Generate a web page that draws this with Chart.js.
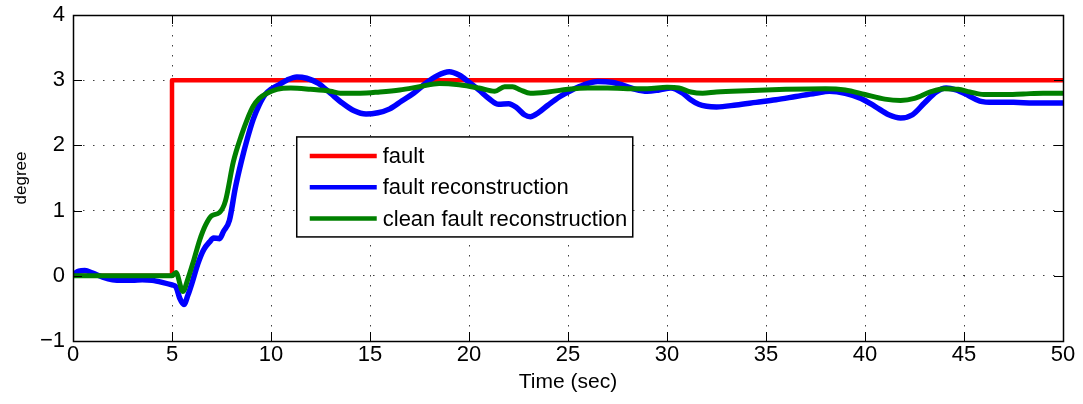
<!DOCTYPE html>
<html>
<head>
<meta charset="utf-8">
<script src="https://cdn.jsdelivr.net/npm/chart.js@4.4.0/dist/chart.umd.min.js"></script>
<style>
  html, body { margin: 0; padding: 0; background: #fff; }
  #wrap { width: 1083px; height: 404px; }
</style>
</head>
<body>
<div id="wrap"><canvas id="grafico" width="1083" height="404"></canvas></div>
<script>
const seriesNames = ['fault', 'fault reconstruction', 'clean fault reconstruction']
const xTicks = [0, 5, 10, 15, 20, 25, 30, 35, 40, 45, 50]
const yTicks = [-1, 0, 1, 2, 3, 4]

const tFault = [0, 5, 5, 50]
const fault = [0, 0, 3, 3]

const tBlue = [0, 0.3, 0.6, 1, 1.5, 2, 2.5, 3, 3.5, 4, 4.5, 5, 5.2, 5.4, 5.6, 5.8, 6, 6.3, 6.6, 6.9,
    7.1, 7.4, 7.6, 7.9, 8.2, 8.5, 8.8, 9.1, 9.4, 9.7, 10, 10.4, 10.8, 11.3, 11.8, 12.4, 13, 13.6, 14.2, 14.8,
    15.4, 16, 16.6, 17.2, 17.8, 18.4, 19, 19.5, 20, 20.5, 21, 21.5, 22, 22.4, 22.8, 23.1, 23.5, 24, 24.6, 25.2,
    25.8, 26.5, 27.2, 27.8, 28.4, 29, 29.6, 30.2, 30.8, 31.2, 31.6, 32, 32.5, 33.5, 34.5, 35.5, 36.5, 37.5, 38.2, 39,
    39.8, 40.5, 41.2, 41.8, 42.4, 43, 43.6, 44.1, 44.6, 45.2, 45.8, 46.5, 47.5, 48.5, 49.5, 50]
const faultRec = [0.02, 0.07, 0.08, 0.04, -0.02, -0.06, -0.07, -0.07, -0.06, -0.07, -0.1, -0.14, -0.17, -0.35, -0.44, -0.3, -0.12, 0.18, 0.4, 0.52,
    0.58, 0.57, 0.68, 0.85, 1.35, 1.75, 2.1, 2.4, 2.62, 2.78, 2.86, 2.93, 3.0, 3.05, 3.03, 2.95, 2.8, 2.65, 2.53, 2.48,
    2.5, 2.56, 2.68, 2.8, 2.95, 3.07, 3.13, 3.08, 2.97, 2.85, 2.72, 2.63, 2.64, 2.58, 2.47, 2.44, 2.5, 2.62, 2.75, 2.85,
    2.93, 2.98, 2.97, 2.92, 2.86, 2.83, 2.85, 2.88, 2.8, 2.7, 2.63, 2.6, 2.59, 2.62, 2.66, 2.7, 2.75, 2.8, 2.83, 2.8,
    2.72, 2.6, 2.47, 2.42, 2.47, 2.65, 2.82, 2.88, 2.85, 2.77, 2.68, 2.66, 2.66, 2.65, 2.65, 2.65]

const tGreen = [0, 1, 2, 3, 4, 5, 5.2, 5.55, 5.8, 6.1, 6.4, 6.7, 7.0, 7.4, 7.7, 8.1, 8.5, 8.8, 9.1, 9.4,
    9.8, 10.3, 11, 12, 13, 13.5, 14.5, 15.5, 16.5, 17.5, 18.5, 19.5, 20.5, 21.3, 21.8, 22.2, 22.6, 23.1, 24, 25,
    26, 27, 28, 29, 30, 30.6, 31.2, 31.8, 32.5, 34, 36, 38, 39, 40, 41, 41.8, 42.5, 43.3, 44, 44.7,
    45.3, 46, 47, 48, 49, 50]
const cleanRec = [0, 0, 0, 0, 0, 0, 0.05, -0.24, -0.05, 0.24, 0.55, 0.78, 0.92, 0.97, 1.15, 1.75, 2.15, 2.4, 2.6, 2.72,
    2.8, 2.86, 2.88, 2.86, 2.83, 2.8, 2.8, 2.82, 2.85, 2.9, 2.95, 2.93, 2.88, 2.83, 2.9, 2.9, 2.85, 2.8, 2.82, 2.86,
    2.88, 2.88, 2.87, 2.87, 2.89, 2.88, 2.82, 2.8, 2.82, 2.84, 2.86, 2.87, 2.85, 2.78, 2.71, 2.69, 2.72, 2.82, 2.87, 2.86,
    2.82, 2.78, 2.78, 2.79, 2.8, 2.8]

const colores = ['#ff0000', '#0000ff', '#008000']
const fuente = '"Liberation Sans", Arial, Helvetica, sans-serif'

const toPoints = (ts, vs) => ts.map((t, i) => ({ x: t, y: vs[i] }))

// caja, marcas hacia dentro y leyenda estilo matlab
const matlabBox = {
    id: 'matlabBox',
    afterDatasetsDraw(chart) {
        const { ctx, chartArea: a, scales } = chart
        const tick = 9
        ctx.save()
        ctx.strokeStyle = '#000'
        ctx.lineWidth = 1
        ctx.beginPath()
        xTicks.forEach(v => {
            const px = Math.round(scales.x.getPixelForValue(v)) + 0.5
            ctx.moveTo(px, a.bottom); ctx.lineTo(px, a.bottom - tick)
            ctx.moveTo(px, a.top); ctx.lineTo(px, a.top + tick)
        })
        yTicks.forEach(v => {
            const py = Math.round(scales.y.getPixelForValue(v)) + 0.5
            ctx.moveTo(a.left, py); ctx.lineTo(a.left + tick, py)
            ctx.moveTo(a.right, py); ctx.lineTo(a.right - tick, py)
        })
        ctx.stroke()
        ctx.lineWidth = 1.5
        ctx.strokeRect(Math.round(a.left) + 0.5, Math.round(a.top) + 0.5, Math.round(a.right - a.left), Math.round(a.bottom - a.top))

        // leyenda
        const lx = a.left + (a.right - a.left) * 0.226
        const ly = a.top + (a.bottom - a.top) * 0.374
        const lw = 336, lh = 100
        ctx.fillStyle = '#fff'
        ctx.fillRect(lx, ly, lw, lh)
        ctx.lineWidth = 1.5
        ctx.strokeRect(lx, ly, lw, lh)
        ctx.font = '22px ' + fuente
        ctx.textBaseline = 'middle'
        seriesNames.forEach((nombre, i) => {
            const yy = ly + 19 + i * 31.3
            ctx.strokeStyle = colores[i]
            ctx.lineWidth = 4.5
            ctx.beginPath()
            ctx.moveTo(lx + 13, yy); ctx.lineTo(lx + 80, yy)
            ctx.stroke()
            ctx.fillStyle = '#000'
            ctx.fillText(nombre, lx + 86, yy + 1)
        })
        ctx.restore()
    }
}

const data = {
    datasets: [
        { label: seriesNames[0], data: toPoints(tFault, fault), borderColor: colores[0], borderWidth: 4.5, order: 3 },
        { label: seriesNames[1], data: toPoints(tBlue, faultRec), borderColor: colores[1], borderWidth: 5.5, order: 2, cubicInterpolationMode: 'monotone' },
        { label: seriesNames[2], data: toPoints(tGreen, cleanRec), borderColor: colores[2], borderWidth: 5, order: 1, cubicInterpolationMode: 'monotone' }
    ]
}

const config = {
    type: 'line',
    data: data,
    options: {
        responsive: false,
        animation: false,
        layout: { padding: { top: 15, right: 20, left: 0, bottom: 0 } },
        elements: { point: { radius: 0 }, line: { tension: 0, borderCapStyle: 'butt', borderJoinStyle: 'round' } },
        plugins: { legend: { display: false }, tooltip: { enabled: false } },
        scales: {
            x: {
                type: 'linear', min: 0, max: 50,
                afterFit: (s) => { s.height = 63; s.paddingLeft = 0; s.paddingRight = 0 },
                afterBuildTicks: (s) => { s.ticks = xTicks.map(v => ({ value: v })) },
                ticks: { color: '#000', padding: 1, maxRotation: 0, font: { family: fuente, size: 22 } },
                grid: { color: 'rgba(0,0,0,0.75)', lineWidth: 1, drawTicks: false },
                border: { display: false, dash: [1.5, 8.5] },
                title: { display: true, text: 'Time (sec)', color: '#000', padding: { top: 0, bottom: 9 }, font: { family: fuente, size: 21 } }
            },
            y: {
                type: 'linear', min: -1, max: 4,
                afterFit: (s) => { s.width = 73; s.paddingTop = 0; s.paddingBottom = 0 },
                afterBuildTicks: (s) => { s.ticks = yTicks.map(v => ({ value: v })) },
                ticks: {
                    color: '#000', padding: 8, font: { family: fuente, size: 22 },
                    callback: (v) => String(v).replace('-', '\u2212')
                },
                grid: { color: 'rgba(0,0,0,0.75)', lineWidth: 1, drawTicks: false },
                border: { display: false, dash: [1.5, 8.5] },
                title: { display: true, text: 'degree', color: '#000', padding: { top: 11, bottom: 0 }, font: { family: fuente, size: 17 } }
            }
        }
    },
    plugins: [matlabBox]
}

new Chart(document.querySelector('#grafico'), config)
</script>
</body>
</html>
